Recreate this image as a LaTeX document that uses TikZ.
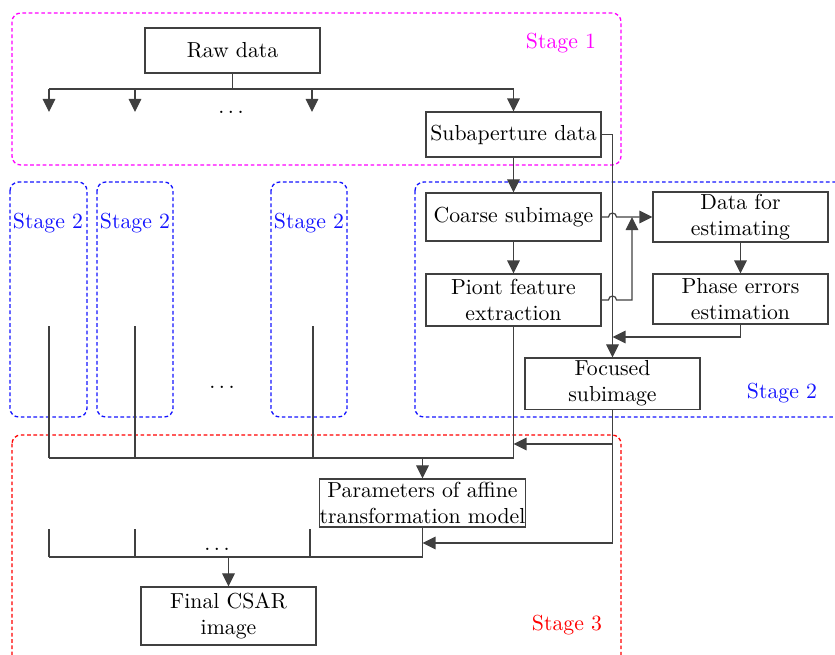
\documentclass[tikz,border=0pt]{standalone}
\usetikzlibrary{arrows.meta}
\definecolor{mag}{RGB}{255,0,255}
\definecolor{stblue}{RGB}{20,20,255}
\definecolor{stred}{RGB}{255,0,0}
\begin{document}
\begin{tikzpicture}[x=0.46pt,y=-0.46pt,
  box/.style={draw=black!75, line width=0.5pt, inner sep=0pt, align=center, minimum width=80.5pt},
  ln/.style={draw=black!75, line width=0.55pt},
  arr/.style={ln, -{Triangle[length=6pt,width=5.8pt]}},
  stg/.style={line width=0.6pt, dash pattern=on 1.7pt off 1.2pt, rounded corners=4pt}]
\useasboundingbox (0,0) rectangle (835,654);
% stage frames
\draw[stg, mag] (12,13) rectangle (621,165);
\draw[stg, stblue] (10,182) rectangle (87,417);
\draw[stg, stblue] (97,182) rectangle (173,417);
\draw[stg, stblue] (271,182) rectangle (347,417);
\draw[stg, stblue] (415,182) rectangle (845,417);
\draw[stg, stred] (12,435) rectangle (621,665);
\node[text=mag] (s1) at (561,43) {Stage 1};
\node[text=stblue] (s2a) at (48,223) {Stage 2};
\node[text=stblue] (s2b) at (135,223) {Stage 2};
\node[text=stblue] (s2c) at (309,223) {Stage 2};
\node[text=stblue] (s2d) at (782,393) {Stage 2};
\node[text=stred] (s3) at (567,625) {Stage 3};
% boxes
\node[box, minimum height=20.7pt] (raw) at (232.5,50.5) {Raw data};
\node[box, minimum height=20.7pt] (sub) at (513.5,134.5) {Subaperture data};
\node[box, minimum height=22.1pt] (coarse) at (513.5,217) {Coarse subimage};
\node[box, minimum height=23.9pt] (piont) at (513.5,300) {Piont feature\\extraction};
\node[box, minimum height=23pt] (data) at (740.5,217) {Data for\\estimating};
\node[box, minimum height=23pt] (phase) at (740.5,299) {Phase errors\\estimation};
\node[box, minimum height=23.5pt] (focused) at (612.5,383.5) {Focused\\subimage};
\node[box, minimum width=91.5pt, minimum height=22.1pt] (params) at (422.5,503) {Parameters of affine\\transformation model};
\node[box, minimum height=26.7pt] (final) at (228.5,616) {Final CSAR\\image};
% dots
\node (d1) at (231,112) {$\ldots$};
\node (d2) at (222,387) {$\ldots$};
\node (d3) at (217,549) {$\ldots$};
% top fan-out
\coordinate (t0) at (232.5,89);
\coordinate (ta) at (49,89);
\coordinate (tb) at (135,89);
\coordinate (tc) at (312,89);
\coordinate (td) at (513.5,89);
\coordinate (ea) at (49,112);
\coordinate (eb) at (135,112);
\coordinate (ec) at (312,112);
\draw[ln] (raw.south) -- (t0);
\draw[ln] (ta) -- (td);
\draw[arr] (ta) -- (ea);
\draw[arr] (tb) -- (eb);
\draw[arr] (tc) -- (ec);
\draw[arr] (td) -- (sub.north);
% stage 2 chain
\draw[arr] (sub.south) -- (coarse.north);
\draw[arr] (coarse.south) -- (piont.north);
\draw[arr] (data.south) -- (phase.north);
\coordinate (v1) at (612.5,134.5);
\draw[arr] (sub.east) -- (v1) -- (focused.north);
\draw[arr] (coarse.east) -- (608.5,217) arc[start angle=180,end angle=0,radius=1.84pt] -- (data.west);
\coordinate (j) at (632,217);
\draw[arr] (piont.east) -- (608.5,300) arc[start angle=180,end angle=0,radius=1.84pt] -- (632,300) -- (j);
\coordinate (p1) at (740.5,337);
\coordinate (p2) at (612.5,337);
\draw[arr] (phase.south) -- (p1) -- (p2);
% collect lines into params
\coordinate (ca1) at (49,326);   \coordinate (ca2) at (49,458);
\coordinate (cb1) at (135,326);  \coordinate (cb2) at (135,458);
\coordinate (cc1) at (313,326);  \coordinate (cc2) at (313,458);
\coordinate (cd2) at (513.5,458);
\coordinate (cm) at (422.5,458);
\draw[ln] (ca1) -- (ca2);
\draw[ln] (cb1) -- (cb2);
\draw[ln] (cc1) -- (cc2);
\draw[ln] (piont.south) -- (cd2);
\draw[ln] (ca2) -- (cd2);
\draw[arr] (cm) -- (params.north);
% focused outputs
\coordinate (f1) at (612.5,444);
\coordinate (f2) at (513.5,444);
\coordinate (f3) at (612.5,543);
\coordinate (f4) at (422.5,543);
\draw[arr] (focused.south) -- (f3) -- (f4);
\draw[arr] (f1) -- (f2);
% bottom collect
\coordinate (ba1) at (49,529);   \coordinate (ba2) at (49,557);
\coordinate (bb1) at (135,529);  \coordinate (bb2) at (135,557);
\coordinate (bc1) at (310,529);  \coordinate (bc2) at (310,557);
\coordinate (bd) at (422.5,557);
\coordinate (bm) at (228.5,557);
\draw[ln] (ba1) -- (ba2);
\draw[ln] (bb1) -- (bb2);
\draw[ln] (bc1) -- (bc2);
\draw[ln] (params.south) -- (bd);
\draw[ln] (ba2) -- (bd);
\draw[arr] (bm) -- (final.north);
\end{tikzpicture}
\end{document}
